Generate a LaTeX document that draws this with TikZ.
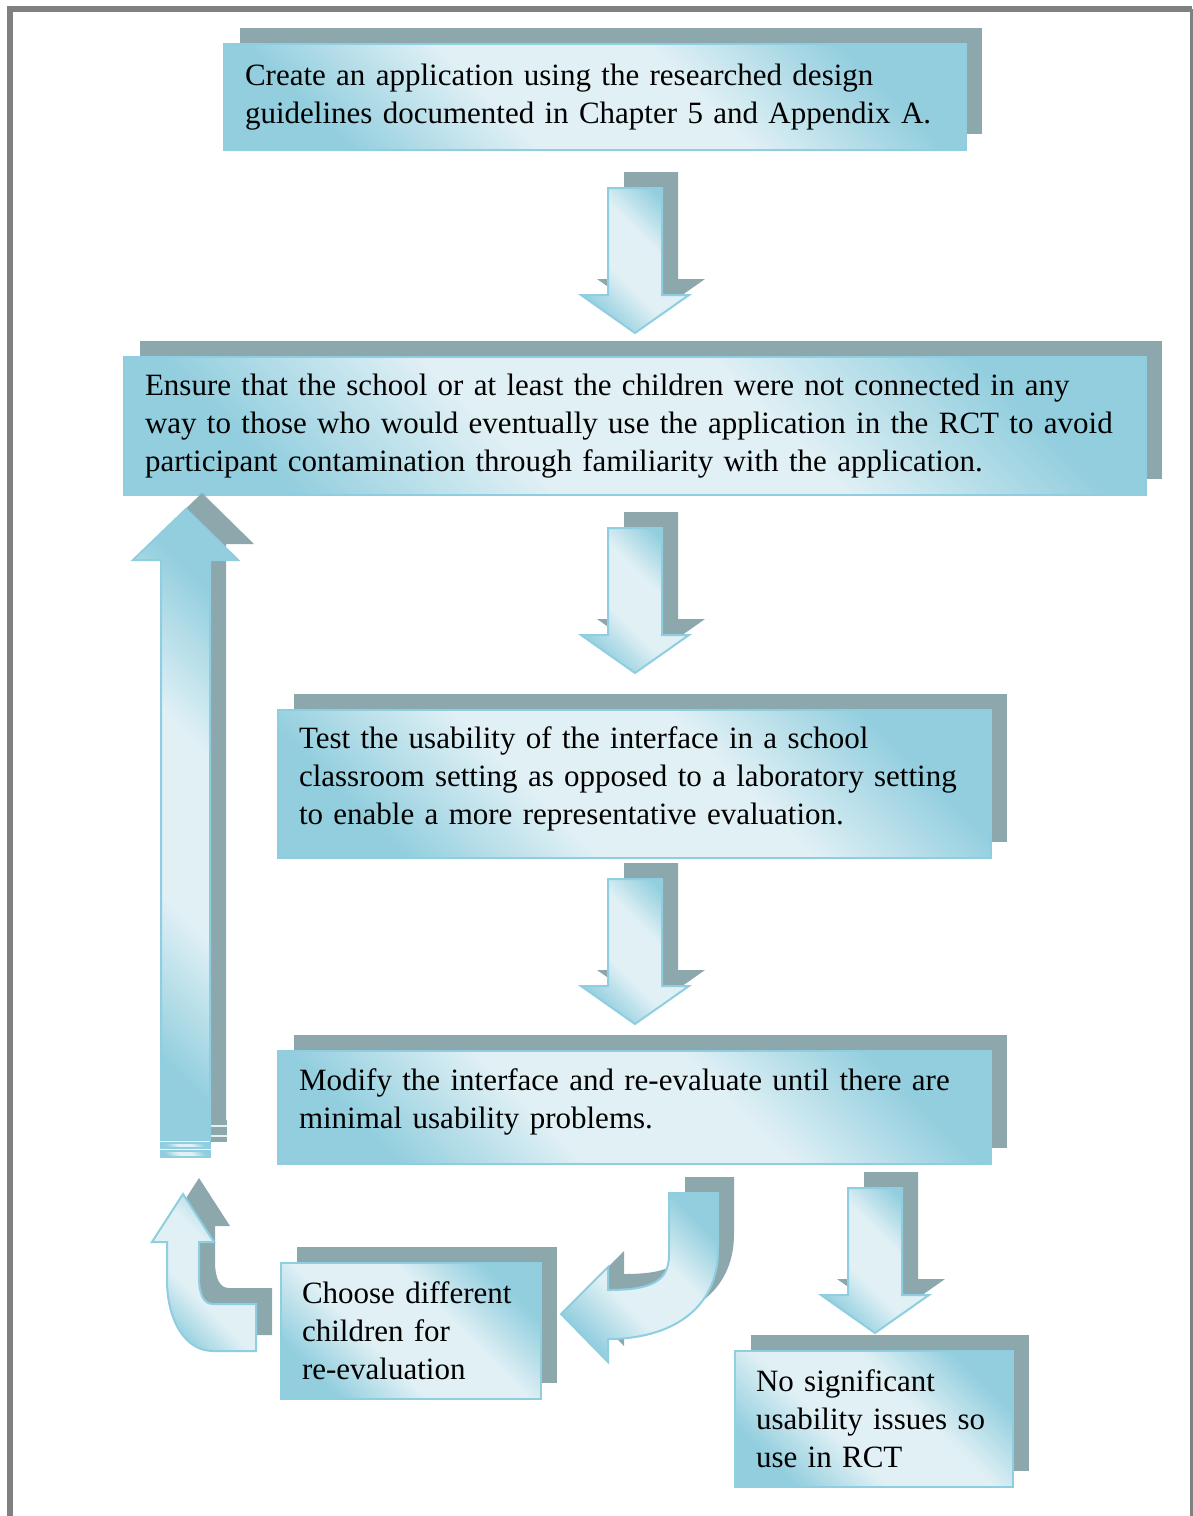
\documentclass[tikz,border=0pt]{standalone}
\usepackage{fontspec}
\setmainfont[WordSpace=0.87]{Liberation Serif}
\usetikzlibrary{shadows}
\definecolor{bdark}{RGB}{146,206,222}
\definecolor{blight}{RGB}{224,240,245}
\definecolor{bline}{RGB}{142,206,224}
\definecolor{shad}{RGB}{140,168,173}
\definecolor{framec}{RGB}{128,128,128}
\pgfdeclareverticalshading{diagsh}{100bp}{color(0bp)=(bdark); color(25bp)=(bdark);
  color(41bp)=(blight); color(59bp)=(blight); color(75bp)=(bdark); color(100bp)=(bdark)}
\newcommand\LL[1]{\mbox{#1}}
\newcommand\lowpad{\rule[-17pt]{0pt}{17pt}}
\newcommand\blockdown[2]{%
  \path[blk] (#1-27,#2) -- (#1+27,#2) -- (#1+27,#2+107) -- (#1+54,#2+107)
    -- (#1,#2+145) -- (#1-54,#2+107) -- (#1-27,#2+107) -- cycle;}
\begin{document}
\begin{tikzpicture}[x=1pt,y=-1pt,
  shadefill/.style={shade, shading=diagsh, shading angle=-45},
  dropsh/.style={general shadow={fill=shad, draw=none, shadow xshift=16pt, shadow yshift=16pt}},
  box/.style={dropsh, shadefill, draw=bline, line width=2pt, rectangle,
    inner xsep=21pt, inner ysep=0pt, align=left, anchor=north west,
    font=\fontsize{31}{38}\selectfont},
  blk/.style={dropsh, shadefill, draw=bline, line width=2pt, line join=miter}
]
\useasboundingbox (0,0) rectangle (1193,1516);
% frame
\draw[framec, line width=6pt] (10,1516) -- (10,9) -- (1192,9);
\draw[framec, line width=3pt] (1191.5,9) -- (1191.5,1516);

% boxes
\node[box, minimum width=742pt, minimum height=106pt, text width=700pt] (b1) at (223,43)
  {\LL{Create an application using the researched design}\\\LL{guidelines documented in Chapter 5 and Appendix A.}};
\node[box, minimum width=1022pt, minimum height=138pt, text width=980pt] (b2) at (123,356)
  {\LL{Ensure that the school or at least the children were not connected in any}\\\LL{way to those who would eventually use the application in the RCT to avoid}\\\LL{participant contamination through familiarity with the application.}};
\node[box, minimum width=713pt, minimum height=148pt, text width=671pt] (b3) at (277,709)
  {\LL{Test the usability of the interface in a school}\\\LL{classroom setting as opposed to a laboratory setting}\\\LL{to enable a more representative evaluation.}\lowpad};
\node[box, minimum width=713pt, minimum height=113pt, text width=671pt] (b4) at (277,1050)
  {\LL{Modify the interface and re-evaluate until there are}\\\LL{minimal usability problems.}\lowpad};
\node[box, minimum width=260pt, minimum height=136pt, text width=218pt] (b5) at (280,1262)
  {\LL{Choose different}\\\LL{children for}\\\LL{re-evaluation}};
\node[box, minimum width=278pt, minimum height=136pt, text width=236pt] (b6) at (734,1350)
  {\LL{No significant}\\\LL{usability issues so}\\\LL{use in RCT}};

% straight down arrows
\blockdown{635}{188}
\blockdown{635}{528}
\blockdown{635}{879}
\blockdown{875}{1188}

% long up arrow
\fill[shad] (210,1120) rectangle (227,1142);
\draw[white!80!shad, line width=1.2pt] (210,1126) -- (227,1126) (210,1136) -- (227,1136);
\path[blk] (186,509) -- (238,560) -- (210,560) -- (210,1140) -- (161,1140) -- (161,560) -- (133,560) -- cycle;
\path[shadefill, draw=bline, line width=1.2pt] (161,1143) rectangle (210,1148);
\path[shadefill, draw=bline, line width=1.2pt] (161,1151) rectangle (210,1157);

% small curved up arrow
\path[blk] (183,1194) -- (214,1242) -- (199,1242) -- (199,1277)
  .. controls (199,1295) and (204,1304) .. (213,1304) -- (256,1304) -- (256,1351) -- (213,1351)
  .. controls (185,1351) and (167,1320) .. (167,1280) -- (167,1242) -- (152,1242) -- cycle;

% J-shaped arrow
\path[blk] (669,1193) -- (718,1193) -- (718,1250)
  .. controls (718,1310) and (670,1339) .. (608,1339) -- (608,1362) -- (561,1314)
  -- (608,1267) -- (608,1290) .. controls (650,1290) and (669,1282) .. (669,1255) -- cycle;
\end{tikzpicture}
\end{document}
